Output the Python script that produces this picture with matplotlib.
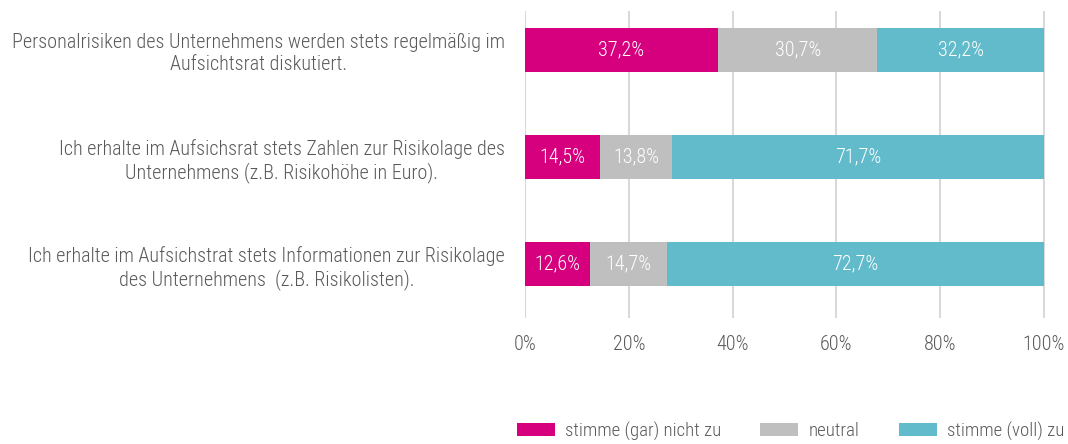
import matplotlib
matplotlib.use("Agg")
import matplotlib.pyplot as plt
from matplotlib.patches import Patch
from matplotlib.ticker import FuncFormatter

categories = [
    "Personalrisiken des Unternehmens werden stets regelmäßig im\nAufsichtsrat diskutiert.",
    "Ich erhalte im Aufsichsrat stets Zahlen zur Risikolage des\nUnternehmens (z.B. Risikohöhe in Euro).",
    "Ich erhalte im Aufsichstrat stets Informationen zur Risikolage\ndes Unternehmens  (z.B. Risikolisten).",
]
series_names = ["stimme (gar) nicht zu", "neutral", "stimme (voll) zu"]
disagree = [37.2, 14.5, 12.6]
neutral = [30.7, 13.8, 14.7]
agree = [32.2, 71.7, 72.7]
xticks = [0, 20, 40, 60, 80, 100]

colors = ["#D6007E", "#BFBFBF", "#62BBCB"]
text_color = "#595959"
FONT = "Roboto Condensed"
plt.rcParams['font.family'] = [FONT, 'DejaVu Sans']
plt.rcParams['font.weight'] = 'light'

fig = plt.figure(figsize=(10.68, 4.44), dpi=100)
ax = fig.add_axes([525/1068, 1 - 318/444, 520/1068, 307/444])

ypos = list(range(len(categories)))
left = [0.0] * len(categories)
for vals, col in zip([disagree, neutral, agree], colors):
    bars = ax.barh(ypos, vals, left=left, height=0.41, color=col, zorder=2)
    for b, v, l in zip(bars, vals, left):
        ax.text(l + v / 2, b.get_y() + b.get_height() / 2,
                f"{v:.1f}%".replace(".", ","), ha='center', va='center',
                color='white', fontsize=14.5, zorder=3)
    left = [a + b for a, b in zip(left, vals)]

ax.set_xlim(0, 100.2)
ax.set_ylim(2.505, -0.364)
ax.set_xticks(xticks)
ax.xaxis.set_major_formatter(FuncFormatter(lambda x, p: f"{x:.0f}%"))
ax.grid(axis='x', color='#D9D9D9', linewidth=1.5, zorder=0)
ax.tick_params(axis='x', length=0, pad=12, labelsize=14.5, labelcolor=text_color)
ax.tick_params(axis='y', length=0, pad=14.5, labelsize=14.5, labelcolor=text_color)
ax.set_yticks(ypos)
ax.set_yticklabels(categories, multialignment='center')
for s in ax.spines.values():
    s.set_visible(False)

handles = [Patch(facecolor=c, edgecolor='none') for c in colors]
fig.legend(handles, series_names, loc='center right', ncol=3,
           bbox_to_anchor=(1064/1068, 1 - 431/444), frameon=False,
           borderaxespad=0, borderpad=0,
           fontsize=13.5, labelcolor=text_color, handlelength=2.03,
           handleheight=0.67, handletextpad=0.53, columnspacing=2.1)

fig.savefig("out.png", dpi=100)
